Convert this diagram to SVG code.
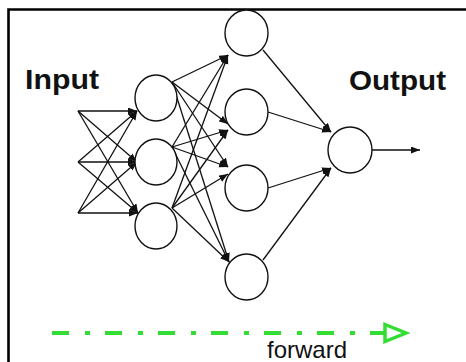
<svg xmlns="http://www.w3.org/2000/svg" width="466" height="362" viewBox="0 0 466 362">
<style>
.n{fill:#fff;stroke:#111;stroke-width:1.4}
.c line{stroke:#111;stroke-width:1.3;marker-end:url(#ah)}
.lbl{font-family:"Liberation Sans",Arial,sans-serif;font-weight:bold;font-size:27px;fill:#111}
</style>
<defs>
<marker id="ah" markerUnits="userSpaceOnUse" markerWidth="10" markerHeight="8" refX="9" refY="3.5" orient="auto">
<path d="M0,0 L9,3.5 L0,7 z" fill="#111"/>
</marker>
</defs>
<rect width="466" height="362" fill="#fff"/>
<path d="M8.5,364 V9.5 H468" fill="none" stroke="#000" stroke-width="2.6"/>
<g id="labels">
<text class="lbl" x="25" y="89" textLength="74" lengthAdjust="spacingAndGlyphs">Input</text>
<text class="lbl" x="349" y="90" textLength="97" lengthAdjust="spacingAndGlyphs">Output</text>
</g>
<g id="connectors" class="c">
<line x1="78" y1="111" x2="137" y2="111"/>
<line x1="78" y1="111" x2="137" y2="162"/>
<line x1="78" y1="111" x2="138" y2="213"/>
<line x1="78" y1="162" x2="137" y2="111"/>
<line x1="78" y1="162" x2="137" y2="162"/>
<line x1="78" y1="162" x2="138" y2="213"/>
<line x1="78" y1="213" x2="137" y2="111"/>
<line x1="78" y1="213" x2="137" y2="162"/>
<line x1="78" y1="213" x2="138" y2="213"/>
<line x1="172" y1="82" x2="228" y2="55"/>
<line x1="172" y1="82" x2="228" y2="124"/>
<line x1="172" y1="82" x2="228" y2="167"/>
<line x1="172" y1="82" x2="229" y2="262"/>
<line x1="172" y1="147" x2="228" y2="55"/>
<line x1="172" y1="147" x2="228" y2="130"/>
<line x1="172" y1="147" x2="228" y2="167"/>
<line x1="172" y1="147" x2="229" y2="262"/>
<line x1="172" y1="208" x2="228" y2="55"/>
<line x1="172" y1="208" x2="228" y2="130"/>
<line x1="172" y1="208" x2="228" y2="174"/>
<line x1="172" y1="208" x2="229" y2="262"/>
<line x1="263" y1="50" x2="331" y2="132"/>
<line x1="268" y1="112" x2="331" y2="132"/>
<line x1="268" y1="188" x2="331" y2="168"/>
<line x1="263" y1="260" x2="331" y2="168"/>
<line x1="372" y1="150" x2="420" y2="150"/>
</g>
<g id="h1-1"><ellipse class="n" cx="156" cy="98" rx="21" ry="23"/></g>
<g id="h1-2"><ellipse class="n" cx="156" cy="162" rx="21" ry="23"/></g>
<g id="h1-3"><ellipse class="n" cx="156" cy="226" rx="21" ry="23"/></g>
<g id="h2-1"><ellipse class="n" cx="246.5" cy="33" rx="21.5" ry="23"/></g>
<g id="h2-2"><ellipse class="n" cx="246.5" cy="112" rx="21.5" ry="23"/></g>
<g id="h2-3"><ellipse class="n" cx="246.5" cy="188" rx="21.5" ry="23"/></g>
<g id="h2-4"><ellipse class="n" cx="246.5" cy="277" rx="21.5" ry="23"/></g>
<g id="out"><ellipse class="n" cx="350" cy="150" rx="22" ry="23"/></g>
<g id="forward">
<line x1="52" y1="333" x2="384" y2="333" stroke="#33dd33" stroke-width="4" stroke-dasharray="17 16 5 15"/>
<polygon points="385,324.5 406,333 385,341.5" fill="#fff" stroke="#33dd33" stroke-width="3.5" stroke-linejoin="miter"/>
<text x="267" y="357.5" font-family="'Liberation Sans',Arial,sans-serif" font-size="24" fill="#111">forward</text>
</g>
</svg>
